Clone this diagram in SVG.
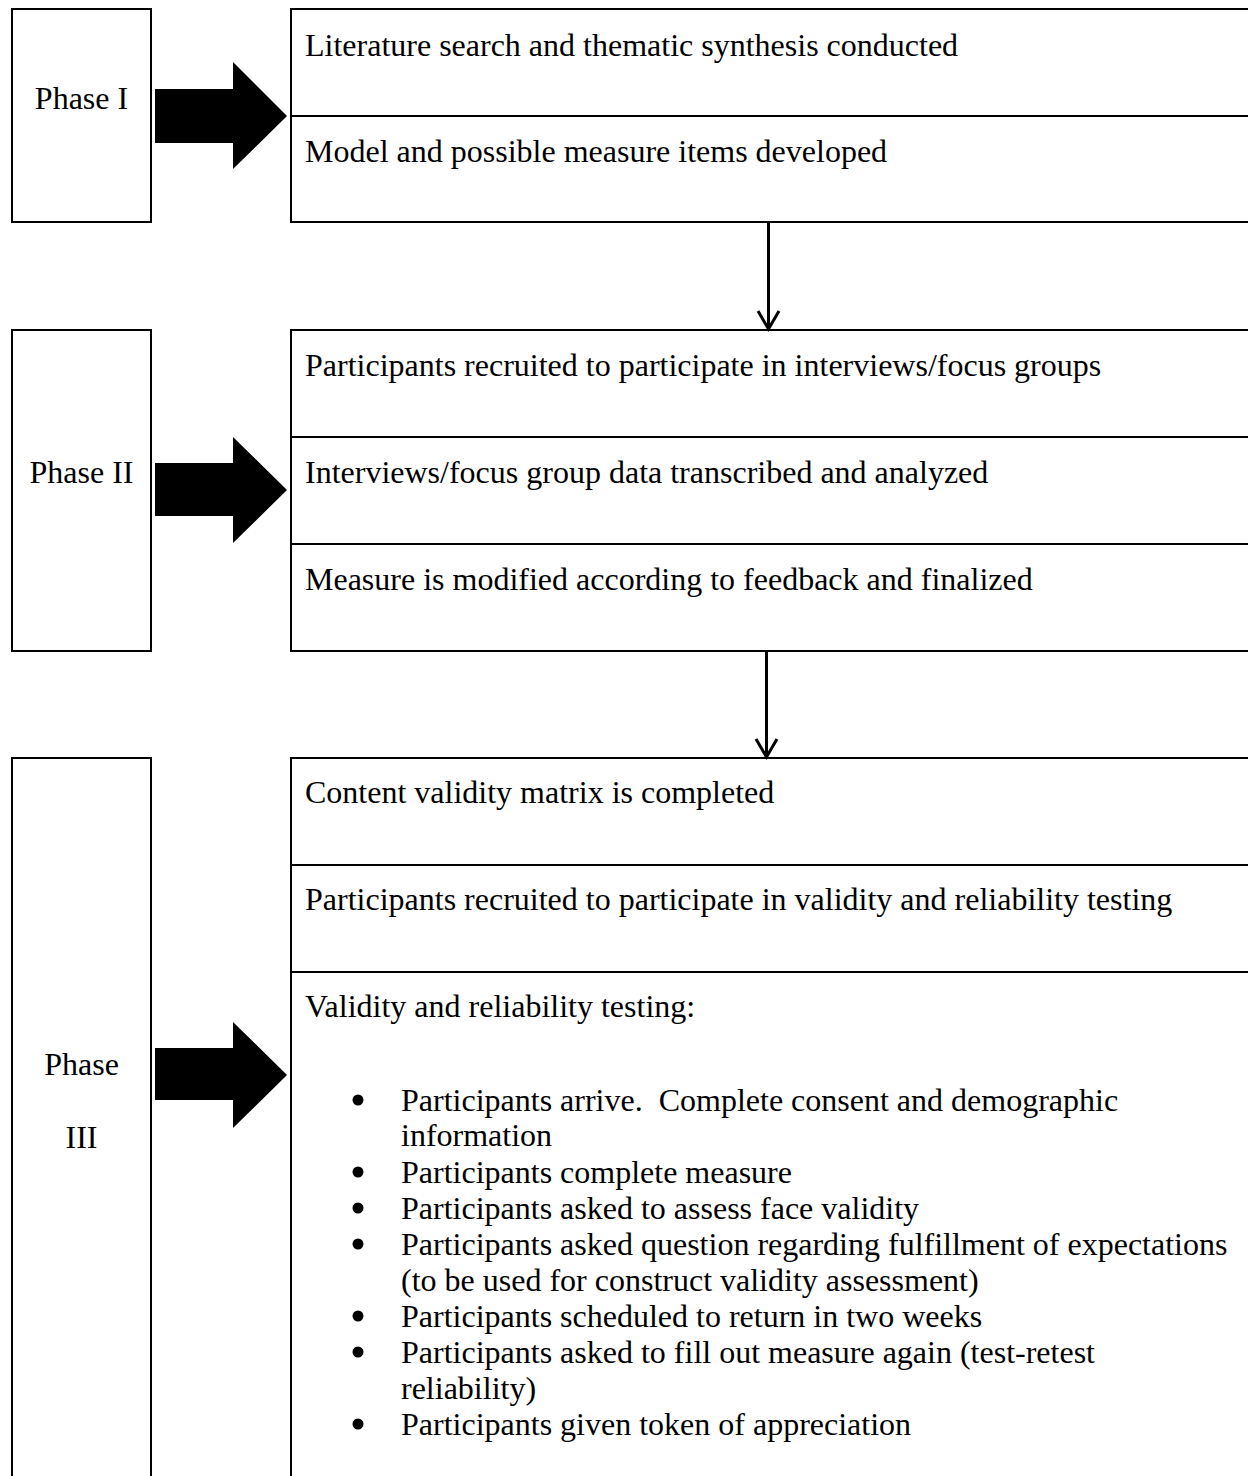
<svg xmlns="http://www.w3.org/2000/svg" width="1248" height="1476" viewBox="0 0 1248 1476">
<defs>
<style>
.box{fill:#fff;stroke:#000;stroke-width:2}
.div{stroke:#000;stroke-width:2}
.t{font-family:"Liberation Serif","Times New Roman",serif;font-size:32px;fill:#000}
.c{text-anchor:middle}
.conn{stroke:#000;stroke-width:3;fill:none}
.big{fill:#000}
</style>
</defs>
<rect width="1248" height="1476" fill="#fff"/>

<g id="phase1">
<rect class="box" x="12" y="9" width="139" height="213"/>
<text class="t c" x="81.5" y="109">Phase I</text>
</g>
<g id="phase1-steps">
<rect class="box" x="291" y="9" width="980" height="213"/>
<line class="div" x1="291" y1="116" x2="1260" y2="116"/>
<text class="t" x="305" y="56">Literature search and thematic synthesis conducted</text>
<text class="t" x="305" y="162">Model and possible measure items developed</text>
</g>

<g id="phase2">
<rect class="box" x="12" y="330" width="139" height="321"/>
<text class="t c" x="81.5" y="483">Phase II</text>
</g>
<g id="phase2-steps">
<rect class="box" x="291" y="330" width="980" height="321"/>
<line class="div" x1="291" y1="437" x2="1260" y2="437"/>
<line class="div" x1="291" y1="544" x2="1260" y2="544"/>
<text class="t" x="305" y="376">Participants recruited to participate in interviews/focus groups</text>
<text class="t" x="305" y="483">Interviews/focus group data transcribed and analyzed</text>
<text class="t" x="305" y="590">Measure is modified according to feedback and finalized</text>
</g>

<g id="phase3">
<rect class="box" x="12" y="758" width="139" height="740"/>
<text class="t c" x="81.5" y="1075">Phase</text>
<text class="t c" x="81.5" y="1148">III</text>
</g>
<g id="phase3-steps">
<rect class="box" x="291" y="758" width="980" height="740"/>
<line class="div" x1="291" y1="865" x2="1260" y2="865"/>
<line class="div" x1="291" y1="972" x2="1260" y2="972"/>
<text class="t" x="305" y="803">Content validity matrix is completed</text>
<text class="t" x="305" y="910">Participants recruited to participate in validity and reliability testing</text>
<text class="t" x="305" y="1017">Validity and reliability testing:</text>
<g id="bullets">
<circle cx="358" cy="1100" r="5.5"/>
<circle cx="358" cy="1172" r="5.5"/>
<circle cx="358" cy="1208" r="5.5"/>
<circle cx="358" cy="1244" r="5.5"/>
<circle cx="358" cy="1316" r="5.5"/>
<circle cx="358" cy="1352" r="5.5"/>
<circle cx="358" cy="1424" r="5.5"/>
</g>
<text class="t" x="401" y="1111" xml:space="preserve">Participants arrive.  Complete consent and demographic</text>
<text class="t" x="401" y="1146">information</text>
<text class="t" x="401" y="1183">Participants complete measure</text>
<text class="t" x="401" y="1219">Participants asked to assess face validity</text>
<text class="t" x="401" y="1255">Participants asked question regarding fulfillment of expectations</text>
<text class="t" x="401" y="1291">(to be used for construct validity assessment)</text>
<text class="t" x="401" y="1327">Participants scheduled to return in two weeks</text>
<text class="t" x="401" y="1363">Participants asked to fill out measure again (test-retest</text>
<text class="t" x="401" y="1399">reliability)</text>
<text class="t" x="401" y="1435">Participants given token of appreciation</text>
</g>

<g id="connectors">
<polygon class="big" points="155,89 233,89 233,62 287,116 233,169 233,143 155,143"/>
<polygon class="big" points="155,463 233,463 233,437 287,490 233,543 233,516 155,516"/>
<polygon class="big" points="155,1048 233,1048 233,1022 287,1075 233,1128 233,1100 155,1100"/>
<line class="conn" x1="768.5" y1="222" x2="768.5" y2="329"/>
<polyline class="conn" points="758,311 768.5,329 779,311"/>
<line class="conn" x1="766.5" y1="651" x2="766.5" y2="757"/>
<polyline class="conn" points="756,739 766.5,757 777,739"/>
</g>
</svg>
